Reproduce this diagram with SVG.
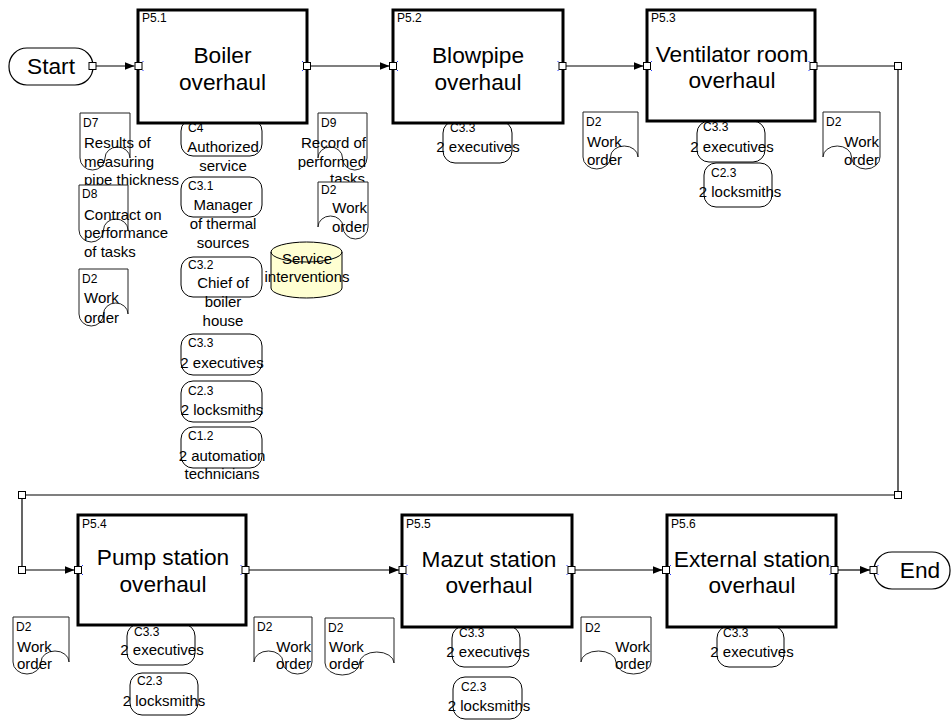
<svg xmlns="http://www.w3.org/2000/svg" width="951" height="720" viewBox="0 0 951 720">
  <defs>
    <style>
      text { font-family: "Liberation Sans", Arial, sans-serif; fill: #000; }
      .big { font-size: 22.7px; text-anchor: middle; }
      .txt { font-size: 15px; }
      .mid { text-anchor: middle; }
      .end { text-anchor: end; }
      .lbl { font-size: 12px; }
      .proc { fill: #fff; stroke: #000; stroke-width: 3; }
      .term { fill: #fff; stroke: #000; stroke-width: 1.2; }
      .doc { fill: #fff; stroke: #222; stroke-width: 1; }
      .res { fill: #fff; stroke: #000; stroke-width: 1; }
      .store { fill: #ffffd2; stroke: #000; stroke-width: 1; }
      .wire { fill: none; stroke: #000; stroke-width: 1.2; }
      .port { fill: #fff; stroke: #000; stroke-width: 1; }
      .tick { fill: none; stroke: #2a3cff; stroke-width: 1; }
    </style>
    <marker id="arrow" markerUnits="userSpaceOnUse" markerWidth="11" markerHeight="9" refX="10" refY="4.5" orient="auto">
      <path d="M0,0.5 L10,4.5 L0,8.5 Z" fill="#000"/>
    </marker>
  </defs>
  <rect width="951" height="720" fill="#fff"/>

  <!-- connectors -->
  <g id="connectors">
    <path class="wire" d="M96,66 H134.5" marker-end="url(#arrow)"/>
    <path class="wire" d="M311,66 H389.5" marker-end="url(#arrow)"/>
    <path class="wire" d="M566,66 H643.5" marker-end="url(#arrow)"/>
    <path class="wire" d="M817,66 H898 V495 H22 V570 H74.5" marker-end="url(#arrow)"/>
    <path class="wire" d="M249,570 H399" marker-end="url(#arrow)"/>
    <path class="wire" d="M575,570 H662.5" marker-end="url(#arrow)"/>
    <path class="wire" d="M838,570 H870" marker-end="url(#arrow)"/>
  </g>

  <!-- terminals -->
  <g id="start">
    <rect class="term" x="9" y="48" width="84" height="37" rx="18" ry="18"/>
    <text class="big" x="51" y="74">Start</text>
  </g>
  <g id="end">
    <rect class="term" x="874" y="552" width="76" height="37" rx="18" ry="18"/>
    <text class="big" x="920" y="578">End</text>
  </g>

  <!-- documents, column under P5.1 -->
  <g id="d7">
    <path class="doc" d="M80,113 H130 V158 A12.5,11 0 0 0 105,158 A12.5,12 0 0 1 80,158 Z"/>
    <text class="lbl" x="83" y="127">D7</text>
    <text class="txt" x="84" y="148">Results of</text>
    <text class="txt" x="84" y="167">measuring</text>
    <text class="txt" x="84" y="185">pipe thickness</text>
  </g>
  <g id="d8">
    <path class="doc" d="M79,185 H128 V230 A12.25,11 0 0 0 103.5,230 A12.25,12 0 0 1 79,230 Z"/>
    <text class="lbl" x="82" y="198">D8</text>
    <text class="txt" x="84" y="220">Contract on</text>
    <text class="txt" x="84" y="238">performance</text>
    <text class="txt" x="84" y="257">of tasks</text>
  </g>
  <g id="d2-a">
    <path class="doc" d="M79,269 H128 V314 A12.25,11 0 0 0 103.5,314 A12.25,12 0 0 1 79,314 Z"/>
    <text class="lbl" x="82" y="283">D2</text>
    <text class="txt" x="84" y="303">Work</text>
    <text class="txt" x="84" y="323">order</text>
  </g>

  <!-- resources, column under P5.1 -->
  <g id="c4">
    <rect class="res" x="181" y="119" width="81" height="37" rx="12" ry="12"/>
    <text class="lbl" x="188" y="132">C4</text>
    <text class="txt mid" x="223" y="152">Authorized</text>
    <text class="txt mid" x="223" y="171">service</text>
  </g>
  <g id="c3-1">
    <rect class="res" x="181" y="177" width="81" height="40" rx="12" ry="12"/>
    <text class="lbl" x="188" y="190">C3.1</text>
    <text class="txt mid" x="223" y="210">Manager</text>
    <text class="txt mid" x="223" y="229">of thermal</text>
    <text class="txt mid" x="223" y="248">sources</text>
  </g>
  <g id="c3-2">
    <rect class="res" x="181" y="257" width="81" height="40" rx="12" ry="12"/>
    <text class="lbl" x="188" y="269">C3.2</text>
    <text class="txt mid" x="223" y="288">Chief of</text>
    <text class="txt mid" x="223" y="307">boiler</text>
    <text class="txt mid" x="223" y="326">house</text>
  </g>
  <g id="c3-3-a">
    <rect class="res" x="181" y="334" width="81" height="41" rx="12" ry="12"/>
    <text class="lbl" x="188" y="347">C3.3</text>
    <text class="txt mid" x="222" y="368">2 executives</text>
  </g>
  <g id="c2-3-a">
    <rect class="res" x="181" y="381" width="81" height="41" rx="12" ry="12"/>
    <text class="lbl" x="188" y="395">C2.3</text>
    <text class="txt mid" x="222" y="415">2 locksmiths</text>
  </g>
  <g id="c1-2">
    <rect class="res" x="181" y="427" width="81" height="41" rx="12" ry="12"/>
    <text class="lbl" x="188" y="440">C1.2</text>
    <text class="txt mid" x="222" y="461">2 automation</text>
    <text class="txt mid" x="222" y="479">technicians</text>
  </g>

  <!-- documents between P5.1 and P5.2 -->
  <g id="d9">
    <path class="doc" d="M367,113 H318 V158 A12.25,11 0 0 1 342.5,158 A12.25,12 0 0 0 367,158 Z"/>
    <text class="lbl" x="321" y="127">D9</text>
    <text class="txt end" x="366" y="148">Record of</text>
    <text class="txt end" x="366" y="167">performed</text>
    <text class="txt end" x="365" y="184">tasks</text>
  </g>
  <g id="d2-b">
    <path class="doc" d="M368,182 H318 V227 A12.5,11 0 0 1 343,227 A12.5,12 0 0 0 368,227 Z"/>
    <text class="lbl" x="321" y="194">D2</text>
    <text class="txt end" x="367" y="213">Work</text>
    <text class="txt end" x="367" y="232">order</text>
  </g>

  <!-- data store -->
  <g id="service-interventions">
    <path class="store" d="M271,252 A35.5,10 0 0 1 342,252 V288 A35.5,10 0 0 1 271,288 Z"/>
    <text class="txt mid" x="307" y="264">Service</text>
    <text class="txt mid" x="307" y="282">interventions</text>
    <path fill="none" stroke="#000" stroke-width="1" d="M271,252 A35.5,10 0 0 0 342,252"/>
  </g>

  <!-- resources under P5.2 -->
  <g id="c3-3-b">
    <rect class="res" x="443" y="121" width="69" height="42" rx="12" ry="12"/>
    <text class="lbl" x="450" y="132">C3.3</text>
    <text class="txt mid" x="478" y="152">2 executives</text>
  </g>

  <!-- documents around P5.3 -->
  <g id="d2-c">
    <path class="doc" d="M583,112 H638 V157 A13.75,11 0 0 0 610.5,157 A13.75,12 0 0 1 583,157 Z"/>
    <text class="lbl" x="586" y="126">D2</text>
    <text class="txt" x="587" y="147">Work</text>
    <text class="txt" x="587" y="165">order</text>
  </g>
  <g id="d2-d">
    <path class="doc" d="M880,112 H823 V157 A14.25,11 0 0 1 851.5,157 A14.25,12 0 0 0 880,157 Z"/>
    <text class="lbl" x="826" y="126">D2</text>
    <text class="txt end" x="879" y="147">Work</text>
    <text class="txt end" x="879" y="165">order</text>
  </g>

  <!-- resources under P5.3 -->
  <g id="c3-3-c">
    <rect class="res" x="697" y="121" width="68" height="41" rx="12" ry="12"/>
    <text class="lbl" x="703" y="131">C3.3</text>
    <text class="txt mid" x="732" y="152">2 executives</text>
  </g>
  <g id="c2-3-c">
    <rect class="res" x="704" y="163" width="68" height="44" rx="12" ry="12"/>
    <text class="lbl" x="711" y="177">C2.3</text>
    <text class="txt mid" x="740" y="197">2 locksmiths</text>
  </g>

  <!-- documents, lower row -->
  <g id="d2-e">
    <path class="doc" d="M13,617 H69 V662 A14,11 0 0 0 41,662 A14,12 0 0 1 13,662 Z"/>
    <text class="lbl" x="16" y="631">D2</text>
    <text class="txt" x="17" y="652">Work</text>
    <text class="txt" x="17" y="669">order</text>
  </g>
  <g id="d2-f">
    <path class="doc" d="M312,617 H254 V662 A14.5,11 0 0 1 283,662 A14.5,12 0 0 0 312,662 Z"/>
    <text class="lbl" x="257" y="631">D2</text>
    <text class="txt end" x="311" y="652">Work</text>
    <text class="txt end" x="311" y="669">order</text>
  </g>
  <g id="d2-g">
    <path class="doc" d="M325,618 H394 V663 A17.25,11 0 0 0 359.5,663 A17.25,12 0 0 1 325,663 Z"/>
    <text class="lbl" x="328" y="632">D2</text>
    <text class="txt" x="329" y="652">Work</text>
    <text class="txt" x="329" y="669">order</text>
  </g>
  <g id="d2-h">
    <path class="doc" d="M651,617 H581 V662 A17.5,11 0 0 1 616,662 A17.5,12 0 0 0 651,662 Z"/>
    <text class="lbl" x="585" y="632">D2</text>
    <text class="txt end" x="650" y="652">Work</text>
    <text class="txt end" x="650" y="669">order</text>
  </g>

  <!-- resources, lower row -->
  <g id="c3-3-d">
    <rect class="res" x="127" y="624" width="68" height="41" rx="12" ry="12"/>
    <text class="lbl" x="134" y="636">C3.3</text>
    <text class="txt mid" x="162" y="655">2 executives</text>
  </g>
  <g id="c2-3-d">
    <rect class="res" x="130" y="673" width="68" height="42" rx="12" ry="12"/>
    <text class="lbl" x="137" y="685">C2.3</text>
    <text class="txt mid" x="164" y="706">2 locksmiths</text>
  </g>
  <g id="c3-3-e">
    <rect class="res" x="452" y="626" width="68" height="41" rx="12" ry="12"/>
    <text class="lbl" x="459" y="637">C3.3</text>
    <text class="txt mid" x="488" y="657">2 executives</text>
  </g>
  <g id="c2-3-e">
    <rect class="res" x="453" y="677" width="69" height="42" rx="12" ry="12"/>
    <text class="lbl" x="461" y="691">C2.3</text>
    <text class="txt mid" x="489" y="711">2 locksmiths</text>
  </g>
  <g id="c3-3-f">
    <rect class="res" x="717" y="626" width="67" height="41" rx="12" ry="12"/>
    <text class="lbl" x="723" y="637">C3.3</text>
    <text class="txt mid" x="752" y="657">2 executives</text>
  </g>

  <!-- process boxes -->
  <g id="p5-1">
    <rect class="proc" x="138" y="10" width="169" height="113"/>
    <text class="lbl" x="142" y="22">P5.1</text>
    <text class="big" x="222.5" y="63">Boiler</text>
    <text class="big" x="222.5" y="89.5">overhaul</text>
  </g>
  <g id="p5-2">
    <rect class="proc" x="393" y="10" width="170" height="113"/>
    <text class="lbl" x="397" y="22">P5.2</text>
    <text class="big" x="478" y="63">Blowpipe</text>
    <text class="big" x="478" y="89.5">overhaul</text>
  </g>
  <g id="p5-3">
    <rect class="proc" x="647" y="10" width="168" height="111"/>
    <text class="lbl" x="651" y="22">P5.3</text>
    <text class="big" x="732" y="62">Ventilator room</text>
    <text class="big" x="732" y="88">overhaul</text>
  </g>
  <g id="p5-4">
    <rect class="proc" x="78" y="515" width="168" height="110"/>
    <text class="lbl" x="82" y="528">P5.4</text>
    <text class="big" x="163" y="565">Pump station</text>
    <text class="big" x="163" y="592">overhaul</text>
  </g>
  <g id="p5-5">
    <rect class="proc" x="402" y="515" width="170" height="112"/>
    <text class="lbl" x="406" y="528">P5.5</text>
    <text class="big" x="489" y="567">Mazut station</text>
    <text class="big" x="489" y="593">overhaul</text>
  </g>
  <g id="p5-6">
    <rect class="proc" x="667" y="515" width="169" height="112"/>
    <text class="lbl" x="671" y="528">P5.6</text>
    <text class="big" x="752" y="567">External station</text>
    <text class="big" x="752" y="593">overhaul</text>
  </g>

  <!-- connection ports -->
  <g id="ports">
    <rect class="port" x="89" y="62.5" width="7" height="7"/>
    <rect class="port" x="135" y="62.5" width="7" height="7"/>
    <rect class="port" x="303.5" y="62.5" width="7" height="7"/>
    <rect class="port" x="389.5" y="62.5" width="7" height="7"/>
    <rect class="port" x="559" y="62.5" width="7" height="7"/>
    <rect class="port" x="643.5" y="62.5" width="7" height="7"/>
    <rect class="port" x="810" y="62.5" width="7" height="7"/>
    <rect class="port" x="894.5" y="62.5" width="7" height="7"/>
    <rect class="port" x="894.5" y="491.5" width="7" height="7"/>
    <rect class="port" x="18.5" y="491.5" width="7" height="7"/>
    <rect class="port" x="18.5" y="566.5" width="7" height="7"/>
    <rect class="port" x="74.5" y="566.5" width="7" height="7"/>
    <rect class="port" x="242" y="566.5" width="7" height="7"/>
    <rect class="port" x="399" y="566.5" width="7" height="7"/>
    <rect class="port" x="568" y="566.5" width="7" height="7"/>
    <rect class="port" x="662.5" y="566.5" width="7" height="7"/>
    <rect class="port" x="831" y="566.5" width="7" height="7"/>
    <rect class="port" x="870" y="566.5" width="7" height="7"/>
    <path class="tick" d="M142.5,61 l1,1 M142.5,71 l1,-1 M303,61 l-1,1 M303,71 l-1,-1 M397,61 l1,1 M397,71 l1,-1 M558.5,61 l-1,1 M558.5,71 l-1,-1 M651,61 l1,1 M651,71 l1,-1 M809.5,61 l-1,1 M809.5,71 l-1,-1 M82,565 l1,1 M82,575 l1,-1 M241.5,565 l-1,1 M241.5,575 l-1,-1 M406.5,565 l1,1 M406.5,575 l1,-1 M567.5,565 l-1,1 M567.5,575 l-1,-1 M670,565 l1,1 M670,575 l1,-1 M830.5,565 l-1,1 M830.5,575 l-1,-1 M877.5,565 l1,1 M877.5,575 l1,-1"/>
  </g>
</svg>
